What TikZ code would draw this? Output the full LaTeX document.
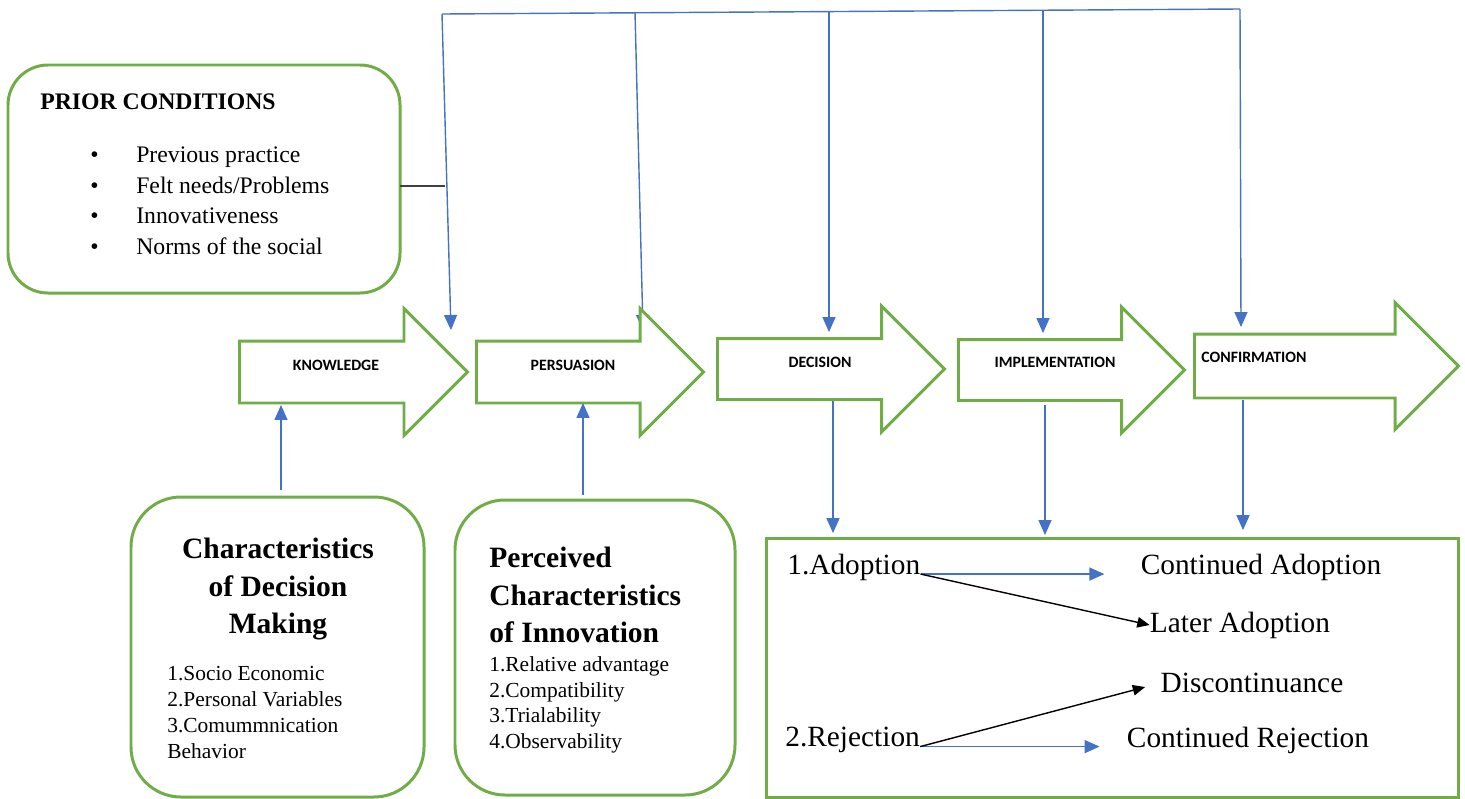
\documentclass[tikz,border=0pt]{standalone}
\usepackage{fontspec}
\setmainfont{Liberation Serif}
\newfontfamily\calfont{Carlito}
\usetikzlibrary{arrows.meta}
\usetikzlibrary{shapes.arrows}
\definecolor{boxgreen}{RGB}{112,173,71}
\definecolor{linkblue}{RGB}{68,114,196}
\newcommand{\pbullet}{\makebox[54.6pt][l]{\hspace{28.4pt}\textbullet}}

\begin{document}
\begin{tikzpicture}[x=0.2mm,y=-0.2mm]
    \useasboundingbox (0,0) rectangle (1465,799);

    \coordinate (t1) at (442,14);
    \coordinate (t2) at (635,12);
    \coordinate (t3) at (829,11);
    \coordinate (t4) at (1043,10);
    \coordinate (t5) at (1240,9);
    \coordinate (d1) at (451,330);
    \coordinate (d2) at (643,330);
    \coordinate (d3) at (829,332);
    \coordinate (d4) at (1043,333);
    \coordinate (d5) at (1241,327);
    \coordinate (j) at (445,186);
    \coordinate (k1) at (281,405);
    \coordinate (k2) at (583,403);
    \coordinate (u3) at (833,400);
    \coordinate (u4) at (1045,405);
    \coordinate (u5) at (1243,400);

    \begin{scope}[every node/.style={draw=boxgreen,line width=1.7pt,anchor=north west,inner sep=0pt,outer sep=0pt}]
        \node[rounded corners=8mm,minimum width=78.4mm,minimum height=45.6mm] (prior) at (8,65) {};
        \node[rounded corners=10mm,minimum width=58.6mm,minimum height=60mm] (cdm) at (131,497) {};
        \node[rounded corners=10mm,minimum width=56mm,minimum height=59mm] (pci) at (455,500) {};
        \node[minimum width=138.4mm,minimum height=51.8mm] (out) at (766,538) {};
    \end{scope}

    \node[anchor=north west,align=left,inner sep=0pt,font=\fontsize{13.5}{17.6}\selectfont] (priort) at (40,93)
        {\textbf{PRIOR CONDITIONS}\\[12.6pt]
        \pbullet Previous practice\\
        \pbullet Felt needs/Problems\\
        \pbullet Innovativeness\\
        \pbullet Norms of the social};

    \node[anchor=north,align=center,inner sep=0pt,font=\bfseries\fontsize{16.8}{21.3}\selectfont] (cdmt) at (278,538)
        {Characteristics\\ of Decision\\ Making};
    \node[anchor=north west,align=left,inner sep=0pt,font=\fontsize{12.2}{14.7}\selectfont] (cdml) at (167,666)
        {1.Socio Economic\\ 2.Personal Variables\\ 3.Comummnication\\ Behavior};

    \node[anchor=north west,align=left,inner sep=0pt,font=\bfseries\fontsize{16.8}{21.3}\selectfont] (pcit) at (489,547)
        {Perceived\\ Characteristics\\ of Innovation};
    \node[anchor=north west,align=left,inner sep=0pt,font=\fontsize{12.2}{14.7}\selectfont] (pcil) at (489,656)
        {1.Relative advantage\\ 2.Compatibility\\ 3.Trialability\\ 4.Observability};

    \begin{scope}[every node/.style={font=\fontsize{16.7}{20}\selectfont,inner sep=0pt}]
        \node[anchor=west] (ado) at (787,567) {1.Adoption};
        \node[anchor=west] (rej) at (785,740) {2.Rejection};
        \node (cado) at (1261,567) {Continued Adoption};
        \node (lado) at (1240,625) {Later Adoption};
        \node (disc) at (1252,683) {Discontinuance};
        \node (crej) at (1248,740) {Continued Rejection};
    \end{scope}

    \begin{scope}[>={Triangle[linkblue,length=8.5pt,width=7.4pt]},
        every edge/.style={draw=linkblue,line width=0.8pt}]
        \path (t1) edge (t5);
        \path [->] (t1) edge (d1);
        \path [->] (t2) edge (d2);
        \path [->] (t3) edge (d3);
        \path [->] (t4) edge (d4);
        \path [->] (t5) edge (d5);

        \path [->] (u3) edge [shorten >=2.8pt] (u3 |- out.north);
        \path [->] (u4) edge [shorten >=1.7pt] (u4 |- out.north);
        \path [->] (u5) edge [shorten >=4.5pt] (u5 |- out.north);

        \path [->] (ado.base east) edge [shorten >=20.5pt] (ado.base east -| cado.west);
        \path [->] (rej.base east) edge [shorten >=15.4pt] (rej.base east -| crej.west);
    \end{scope}

    \begin{scope}[>={Triangle[black,length=7pt,width=6pt]},
        every edge/.style={draw=black,line width=0.8pt}]
        \path [->] (ado.base east) edge (lado.west);
        \path [->] (rej.base east) edge [shorten >=9pt] (disc.west);
    \end{scope}

    \draw [draw=black!75,line width=0.8pt] (prior.east |- j) -- (j);

    \begin{scope}[every node/.style={single arrow,draw=boxgreen,line width=1.7pt,fill=white,
            anchor=tail,inner sep=0pt,minimum width=0pt,single arrow head extend=6.5mm}]
        \node[minimum height=45.6mm,inner ysep=5.9mm] (know) at (238,372) {};
        \node[minimum height=45.4mm,inner ysep=5.9mm] (pers) at (475,372) {};
        \node[minimum height=45.4mm,inner ysep=5.8mm] (dec) at (716,369) {};
        \node[minimum height=45.2mm,inner ysep=5.8mm] (impl) at (957,370) {};
        \node[minimum height=52.8mm,inner ysep=6.1mm,single arrow head extend=6.3mm] (conf) at (1193,366) {};
    \end{scope}

    \begin{scope}[>={Triangle[linkblue,length=8.5pt,width=7.4pt]},
        every edge/.style={draw=linkblue,line width=0.8pt}]
        \path [->] (cdm.north -| k1) edge [shorten <=4pt] (k1);
        \path [->] (pci.north -| k2) edge [shorten <=2.8pt] (k2);
    \end{scope}

    \begin{scope}[every node/.style={font=\calfont\bfseries\fontsize{9}{11}\selectfont,inner sep=0pt}]
        \node (knowt) at (336,365) {KNOWLEDGE};
        \node (perst) at (573,365) {PERSUASION};
        \node (dect) at (820,362) {DECISION};
        \node (implt) at (1055,362) {IMPLEMENTATION};
        \node (conft) at (1254,357) {CONFIRMATION};
    \end{scope}
\end{tikzpicture}
\end{document}
